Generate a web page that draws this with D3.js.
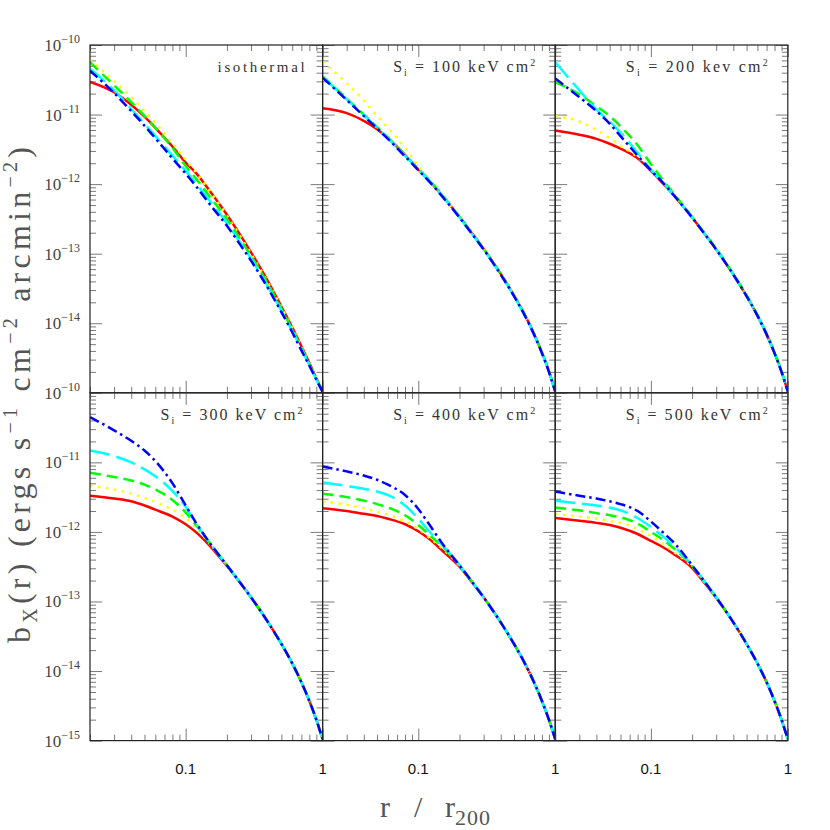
<!DOCTYPE html>
<html><head><meta charset="utf-8">
<script src="https://cdn.jsdelivr.net/npm/d3@7"></script>
<style>body{margin:0;background:#fff}</style>
</head><body>
<svg id="c" width="830" height="830" xmlns="http://www.w3.org/2000/svg"></svg>
<script>
// radius grid (r / r200)
const rGrid = [0.02,0.03,0.04,0.05,0.06,0.08,0.1,0.12,0.15,0.2,0.25,0.3,0.4,0.5,0.6,0.7,0.8,0.9,1.0];
// log10 of b_X(r)
const isoRed    = [-10.53,-10.68,-10.86,-11.03,-11.19,-11.46,-11.69,-11.85,-12.10,-12.44,-12.73,-12.98,-13.40,-13.76,-14.06,-14.33,-14.57,-14.79,-14.98];
const isoYellow = [-10.21,-10.52,-10.75,-10.95,-11.12,-11.41,-11.65,-11.84,-12.10,-12.45,-12.75,-13.00,-13.42,-13.77,-14.07,-14.34,-14.58,-14.79,-14.98];
const isoGreen  = [-10.25,-10.58,-10.82,-11.02,-11.19,-11.48,-11.74,-11.93,-12.18,-12.50,-12.79,-13.03,-13.44,-13.79,-14.09,-14.35,-14.59,-14.80,-14.98];
const isoCyan   = [-10.34,-10.65,-10.92,-11.13,-11.31,-11.59,-11.81,-12.00,-12.24,-12.56,-12.84,-13.07,-13.48,-13.82,-14.11,-14.37,-14.60,-14.81,-14.99];
const isoBlue   = [-10.37,-10.69,-10.95,-11.16,-11.34,-11.63,-11.85,-12.04,-12.29,-12.60,-12.87,-13.10,-13.50,-13.84,-14.13,-14.39,-14.61,-14.81,-14.99];

const s100Red    = [-10.91,-10.98,-11.09,-11.21,-11.34,-11.58,-11.79,-11.95,-12.17,-12.47,-12.72,-12.93,-13.29,-13.60,-13.88,-14.15,-14.42,-14.69,-14.98];
const s100Yellow = [-10.24,-10.55,-10.80,-11.02,-11.19,-11.48,-11.74,-11.94,-12.17,-12.47,-12.72,-12.93,-13.29,-13.60,-13.88,-14.15,-14.42,-14.69,-14.98];
const s100Green  = [-10.45,-10.77,-11.00,-11.18,-11.33,-11.58,-11.78,-11.94,-12.16,-12.47,-12.72,-12.93,-13.29,-13.60,-13.88,-14.15,-14.42,-14.69,-14.98];
const s100Cyan   = [-10.46,-10.78,-11.01,-11.19,-11.34,-11.59,-11.79,-11.95,-12.17,-12.48,-12.73,-12.94,-13.30,-13.61,-13.89,-14.16,-14.43,-14.70,-14.98];
const s100Blue   = [-10.47,-10.79,-11.02,-11.20,-11.35,-11.60,-11.80,-11.96,-12.18,-12.48,-12.73,-12.94,-13.30,-13.61,-13.89,-14.16,-14.43,-14.70,-14.98];

const s200Red    = [-11.23,-11.29,-11.35,-11.42,-11.49,-11.63,-11.81,-11.97,-12.18,-12.48,-12.73,-12.94,-13.30,-13.61,-13.89,-14.16,-14.43,-14.70,-14.98];
const s200Yellow = [-11.02,-11.10,-11.22,-11.34,-11.45,-11.61,-11.79,-11.96,-12.17,-12.48,-12.73,-12.94,-13.30,-13.61,-13.89,-14.16,-14.43,-14.70,-14.98];
const s200Green  = [-10.53,-10.71,-10.88,-11.02,-11.17,-11.44,-11.71,-11.92,-12.16,-12.47,-12.72,-12.93,-13.29,-13.60,-13.88,-14.15,-14.42,-14.69,-14.98];
const s200Cyan   = [-10.25,-10.65,-10.93,-11.10,-11.26,-11.55,-11.79,-11.96,-12.18,-12.48,-12.73,-12.94,-13.30,-13.61,-13.89,-14.16,-14.43,-14.70,-14.98];
const s200Blue   = [-10.48,-10.75,-10.95,-11.13,-11.31,-11.59,-11.80,-11.96,-12.18,-12.48,-12.73,-12.94,-13.30,-13.61,-13.89,-14.16,-14.43,-14.70,-14.98];

const s300Red    = [-11.48,-11.52,-11.56,-11.62,-11.68,-11.78,-11.89,-12.01,-12.20,-12.49,-12.73,-12.94,-13.30,-13.61,-13.89,-14.16,-14.43,-14.70,-14.98];
const s300Yellow = [-11.34,-11.39,-11.45,-11.51,-11.57,-11.68,-11.80,-11.95,-12.17,-12.48,-12.73,-12.94,-13.30,-13.61,-13.89,-14.16,-14.43,-14.70,-14.98];
const s300Green  = [-11.15,-11.21,-11.26,-11.32,-11.39,-11.54,-11.72,-11.91,-12.16,-12.48,-12.73,-12.94,-13.30,-13.61,-13.89,-14.16,-14.43,-14.70,-14.98];
const s300Cyan   = [-10.83,-10.91,-11.00,-11.10,-11.20,-11.41,-11.64,-11.89,-12.16,-12.48,-12.73,-12.94,-13.30,-13.61,-13.89,-14.16,-14.43,-14.70,-14.98];
const s300Blue   = [-10.35,-10.54,-10.69,-10.83,-10.98,-11.30,-11.62,-11.88,-12.16,-12.48,-12.73,-12.94,-13.30,-13.61,-13.89,-14.16,-14.43,-14.70,-14.98];

const s400Red    = [-11.66,-11.70,-11.74,-11.77,-11.81,-11.89,-11.99,-12.10,-12.27,-12.50,-12.74,-12.94,-13.30,-13.61,-13.89,-14.16,-14.43,-14.70,-14.98];
const s400Yellow = [-11.56,-11.61,-11.66,-11.71,-11.75,-11.85,-11.96,-12.08,-12.24,-12.49,-12.73,-12.94,-13.30,-13.61,-13.89,-14.16,-14.43,-14.70,-14.98];
const s400Green  = [-11.45,-11.50,-11.55,-11.60,-11.65,-11.76,-11.90,-12.04,-12.21,-12.48,-12.73,-12.94,-13.30,-13.61,-13.89,-14.16,-14.43,-14.70,-14.98];
const s400Cyan   = [-11.29,-11.34,-11.38,-11.42,-11.47,-11.62,-11.81,-11.99,-12.19,-12.48,-12.73,-12.94,-13.30,-13.61,-13.89,-14.16,-14.43,-14.70,-14.98];
const s400Blue   = [-11.06,-11.13,-11.19,-11.25,-11.32,-11.47,-11.67,-11.89,-12.17,-12.48,-12.73,-12.94,-13.30,-13.61,-13.89,-14.16,-14.43,-14.70,-14.98];

const s500Red    = [-11.80,-11.84,-11.87,-11.90,-11.94,-12.03,-12.13,-12.21,-12.33,-12.52,-12.75,-12.95,-13.30,-13.61,-13.89,-14.16,-14.43,-14.70,-14.98];
const s500Yellow = [-11.74,-11.78,-11.81,-11.84,-11.87,-11.96,-12.06,-12.16,-12.30,-12.50,-12.74,-12.94,-13.30,-13.61,-13.89,-14.16,-14.43,-14.70,-14.98];
const s500Green  = [-11.65,-11.69,-11.73,-11.76,-11.79,-11.88,-12.00,-12.10,-12.25,-12.49,-12.73,-12.94,-13.30,-13.61,-13.89,-14.16,-14.43,-14.70,-14.98];
const s500Cyan   = [-11.55,-11.59,-11.62,-11.65,-11.69,-11.80,-11.93,-12.05,-12.22,-12.48,-12.73,-12.94,-13.30,-13.61,-13.89,-14.16,-14.43,-14.70,-14.98];
const s500Blue   = [-11.42,-11.48,-11.52,-11.56,-11.60,-11.70,-11.85,-11.99,-12.17,-12.48,-12.73,-12.94,-13.30,-13.61,-13.89,-14.16,-14.43,-14.70,-14.98];

const panelSeries = [
  [isoRed, isoYellow, isoGreen, isoCyan, isoBlue],
  [s100Red, s100Yellow, s100Green, s100Cyan, s100Blue],
  [s200Red, s200Yellow, s200Green, s200Cyan, s200Blue],
  [s300Red, s300Yellow, s300Green, s300Cyan, s300Blue],
  [s400Red, s400Yellow, s400Green, s400Cyan, s400Blue],
  [s500Red, s500Yellow, s500Green, s500Cyan, s500Blue]
];
const panelEntropy = [null, "100", "200", "300", "400", "500"];
const panelUnit = [null, "keV", "kev", "keV", "keV", "keV"];
const xLabelTicks = [0.1, 1];
const yLabelExps = [-10, -11, -12, -13, -14, -15];
const seriesColors = ["#ff0000", "#ffff00", "#00ff00", "#00ffff", "#0000ff"];
const seriesDash = [null, "2.5,5.5", "11,6", "20,7", "10,4,2.5,4"];

const svg = d3.select("#c");
const L = 90, T = 45, PW = 232.6, PH = 347.8;
const MAJ = 12, MIN = 6;
const isMajor = v => Math.abs(Math.log10(v) - Math.round(Math.log10(v))) < 1e-6;
const tickCol = "#7a7a7a";

function fitStart(textSel, target) {
  const n = textSel.node();
  const len = n.getComputedTextLength();
  const chars = n.textContent.length;
  textSel.attr("letter-spacing", ((target - len) / (chars - 1)).toFixed(2));
}

const defs = svg.append("defs");

panelSeries.forEach((series, i) => {
  const col = i % 3, row = Math.floor(i / 3);
  const x0 = L + col * PW, y0 = T + row * PH;
  const xs = d3.scaleLog().domain([rGrid[0], rGrid[rGrid.length - 1]]).range([x0, x0 + PW]);
  const ys = d3.scaleLog().domain([1e-15, 1e-10]).range([y0 + PH, y0]);
  const g = svg.append("g");

  const styleAxis = (ax, horizontal, sign) => {
    ax.select(".domain").remove();
    ax.selectAll(".tick line")
      .attr("stroke", tickCol).attr("stroke-width", 1)
      .each(function (d) {
        const len = (isMajor(d) ? MAJ : MIN) * sign;
        d3.select(this).attr(horizontal ? "y2" : "x2", len);
      });
    ax.selectAll(".tick text").remove();
  };
  styleAxis(g.append("g").attr("transform", `translate(0,${y0 + PH})`)
    .call(d3.axisBottom(xs).ticks(10).tickSize(-MIN)), true, -1);
  styleAxis(g.append("g").attr("transform", `translate(0,${y0})`)
    .call(d3.axisTop(xs).ticks(10).tickSize(-MIN)), true, 1);
  styleAxis(g.append("g").attr("transform", `translate(${x0},0)`)
    .call(d3.axisLeft(ys).ticks(10).tickSize(-MIN)), false, 1);
  styleAxis(g.append("g").attr("transform", `translate(${x0 + PW},0)`)
    .call(d3.axisRight(ys).ticks(10).tickSize(-MIN)), false, -1);

  const cid = "clip" + i;
  defs.append("clipPath").attr("id", cid).append("rect")
    .attr("x", x0).attr("y", y0).attr("width", PW).attr("height", PH);
  const line = d3.line().x(d => xs(d[0])).y(d => ys(d[1])).curve(d3.curveMonotoneX);
  const lg = g.append("g").attr("clip-path", `url(#${cid})`);
  series.forEach((s, k) => {
    const pts = rGrid.map((r, j) => [r, Math.pow(10, s[j])]);
    lg.append("path").attr("d", line(pts)).attr("fill", "none")
      .attr("stroke", seriesColors[k]).attr("stroke-width", 2.5)
      .attr("stroke-dasharray", seriesDash[k]);
  });

  g.append("rect").attr("x", x0).attr("y", y0).attr("width", PW).attr("height", PH)
    .attr("fill", "none").attr("stroke", "#222").attr("stroke-width", 1.2);

  const right = x0 + PW - (i === 0 ? 18 : 20);
  const base = y0 + 27;
  if (i === 0) {
    const t = g.append("text").attr("y", base)
      .attr("font-family", "Liberation Serif, serif").attr("font-size", 15)
      .attr("fill", "#333").text("isothermal");
    fitStart(t, 87);
    t.attr("x", right - 87);
  } else {
    const t = g.append("text").attr("y", base)
      .attr("font-family", "Liberation Serif, serif").attr("font-size", 16).attr("fill", "#333");
    t.append("tspan").text("S");
    t.append("tspan").attr("font-size", 10).attr("dy", 4).text("i");
    t.append("tspan").attr("dy", -4).text(` = ${panelEntropy[i]} ${panelUnit[i]} cm`);
    t.append("tspan").attr("font-size", 10).attr("dy", -6).text("2");
    fitStart(t, 142);
    t.attr("x", right - 142);
  }

  if (col === 0) {
    yLabelExps.forEach(e => {
      if (row === 0 && e === -15) return;
      const yy = ys(Math.pow(10, e));
      const t = svg.append("text").attr("x", 80).attr("y", yy + 6)
        .attr("text-anchor", "end").attr("font-family", "Liberation Serif, serif")
        .attr("font-size", 17).attr("fill", "#444");
      t.append("tspan").text("10");
      t.append("tspan").attr("font-size", 12).attr("dy", -8).text("\u2212" + (-e));
    });
  }
  if (row === 1) {
    xLabelTicks.forEach(v => {
      svg.append("text").attr("x", xs(v)).attr("y", 774).attr("text-anchor", "middle")
        .attr("font-family", "Liberation Sans, Arial, sans-serif").attr("font-size", 15)
        .attr("fill", "#111").text(v === 1 ? "1" : "0.1");
    });
  }
});

{
  const g = svg.append("g").attr("transform", "translate(30,395) rotate(-90)");
  const t = g.append("text").attr("x", 0).attr("y", 0)
    .attr("font-family", "Liberation Serif, serif").attr("font-size", 32).attr("fill", "#555");
  t.append("tspan").text("b");
  t.append("tspan").attr("font-size", 20).attr("dy", 7).text("X");
  t.append("tspan").attr("dy", -7).text("(r) (ergs s");
  t.append("tspan").attr("font-size", 20).attr("dy", -13).text("\u22121");
  t.append("tspan").attr("dy", 13).text(" cm");
  t.append("tspan").attr("font-size", 20).attr("dy", -13).text("\u22122");
  t.append("tspan").attr("dy", 13).text(" arcmin");
  t.append("tspan").attr("font-size", 20).attr("dy", -13).text("\u22122");
  t.append("tspan").attr("dy", 13).text(")");
  fitStart(t, 496);
  t.attr("x", -248);
}
{
  const t = svg.append("text").attr("y", 817)
    .attr("font-family", "Liberation Serif, serif").attr("font-size", 30).attr("fill", "#555");
  t.append("tspan").attr("x", 380).text("r");
  t.append("tspan").attr("x", 414).text("/");
  t.append("tspan").attr("x", 445).text("r");
  t.append("tspan").attr("font-size", 22).attr("dy", 8).attr("letter-spacing", 1).text("200");
}
</script>
</body></html>
